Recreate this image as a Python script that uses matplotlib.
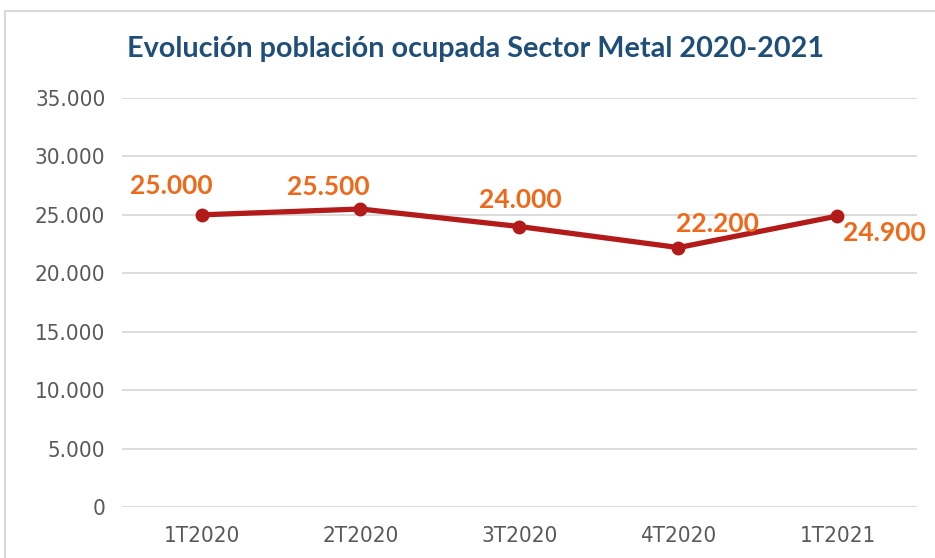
import matplotlib.pyplot as plt
from matplotlib.patches import Rectangle
from matplotlib.ticker import FuncFormatter

categories = ['1T2020', '2T2020', '3T2020', '4T2020', '1T2021']
ocupados = [25000, 25500, 24000, 22200, 24900]
# label offsets in points (dx, dy), as placed in the original
label_offsets = [(-21.6, 21), (-23, 16), (0.7, 19), (27.7, 17), (34, -12)]

line_col = '#B31B1B'
label_col = '#EE6A1A'
grey = '#595959'

def miles(v, pos=None):
    return f'{int(v):,}'.replace(',', '.')

fig = plt.figure(figsize=(9.35, 5.58), dpi=100)
ax = fig.add_axes([0.1305, 0.0914, 0.8502, 0.733])

# chart frame like the excel chart area
fig.patches.append(Rectangle((5 / 935, -0.1), 1.2, 1 - 11 / 558 + 0.1,
                             transform=fig.transFigure, fill=False,
                             edgecolor='#D9D9D9', linewidth=1.5))

x = range(len(categories))
ax.plot(x, ocupados, color=line_col, linewidth=3.8, marker='o', markersize=9,
        solid_capstyle='round', zorder=3)

for i, v in enumerate(ocupados):
    dx, dy = label_offsets[i]
    ax.annotate(miles(v), (i, v), xytext=(dx, dy), textcoords='offset points',
                ha='center', va='center', color=label_col, fontsize=19,
                fontweight='bold', family='Lato', zorder=4)

ax.set_xlim(-0.5, len(categories) - 0.5)
ax.set_ylim(0, 35000)
ax.set_yticks(range(0, 35001, 5000))
ax.yaxis.set_major_formatter(FuncFormatter(miles))
ax.set_xticks(list(x))
ax.set_xticklabels(categories)
ax.grid(axis='y', color='#D9D9D9', linewidth=1.3)
ax.set_axisbelow(True)
for s in ax.spines.values():
    s.set_visible(False)
ax.tick_params(length=0, labelsize=16, colors=grey, pad=12)
for lab in ax.get_xticklabels() + ax.get_yticklabels():
    lab.set_family('DejaVu Sans')
    lab.set_fontstretch('condensed')
    lab.set_fontweight('light')
ax.tick_params(axis='x', pad=14)

fig.text(0.509, 0.913, 'Evolución población ocupada Sector Metal 2020-2021',
         ha='center', va='center', fontsize=20.7, fontweight='bold',
         color='#1F4E79', family='Lato')

fig.savefig('out.png', dpi=100)
